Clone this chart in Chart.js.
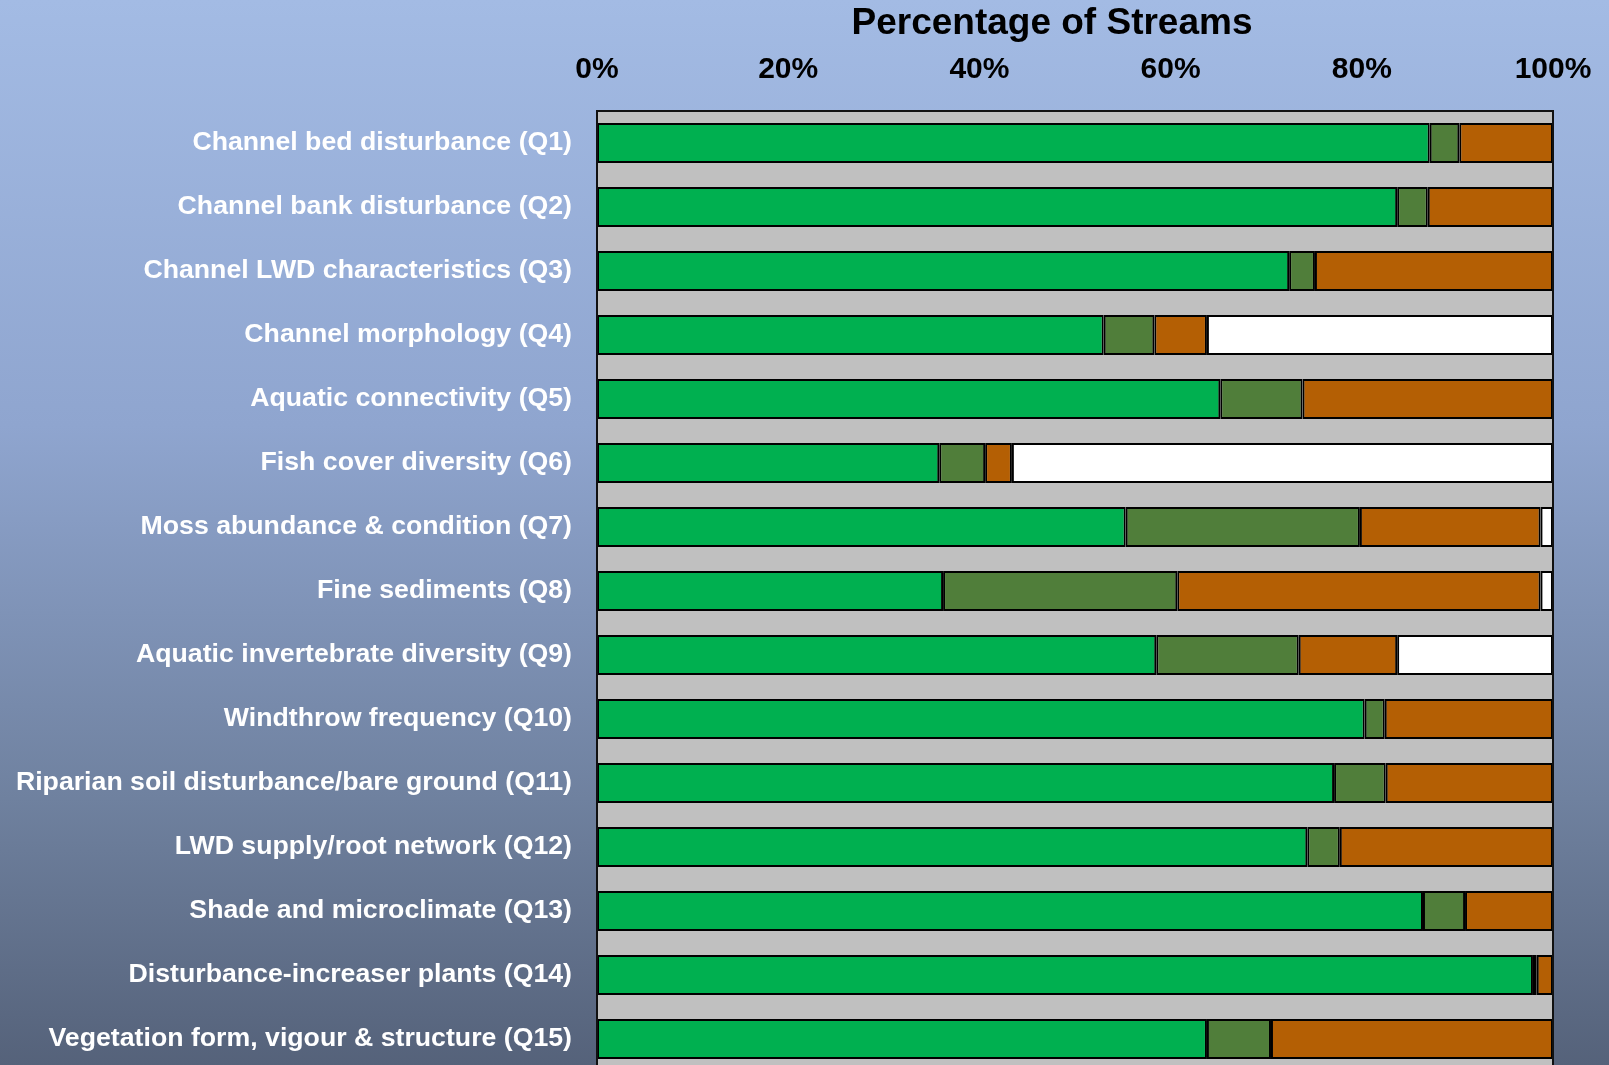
<!DOCTYPE html>
<html>
<head>
<meta charset="utf-8">
<title>Percentage of Streams</title>
<script src="https://cdn.jsdelivr.net/npm/chart.js@4.4.1/dist/chart.umd.min.js"></script>
<style>
html, body {
  margin: 0;
  padding: 0;
  width: 1609px;
  height: 1065px;
  overflow: hidden;
  background: linear-gradient(to bottom, #a3bbe4 0%, #8fa5cf 40%, #6f819f 75%, #55627a 100%);
}
canvas { display: block; }
</style>
</head>
<body>
<canvas id="streamChart" width="1609" height="1075"></canvas>
<script>
// assessment questions, top to bottom
const questions = [
  "Channel bed disturbance (Q1)",
  "Channel bank disturbance (Q2)",
  "Channel LWD characteristics (Q3)",
  "Channel morphology (Q4)",
  "Aquatic connectivity (Q5)",
  "Fish cover diversity (Q6)",
  "Moss abundance & condition (Q7)",
  "Fine sediments (Q8)",
  "Aquatic invertebrate diversity (Q9)",
  "Windthrow frequency (Q10)",
  "Riparian soil disturbance/bare ground (Q11)",
  "LWD supply/root network (Q12)",
  "Shade and microclimate (Q13)",
  "Disturbance-increaser plants (Q14)",
  "Vegetation form, vigour & structure (Q15)"
];

// % of streams per answer
const yesPct     = [87.1, 83.7, 72.4, 53.0, 65.2, 35.8, 55.3, 36.2, 58.5, 80.3, 77.1, 74.3, 86.4, 97.9, 63.8];
const partialPct = [3.1, 3.2, 2.7, 5.3, 8.6, 4.8, 24.5, 24.5, 14.9, 2.1, 5.4, 3.4, 4.4, 0.4, 6.7];
const noPct      = [9.8, 13.1, 24.9, 5.5, 26.2, 2.8, 18.9, 38.0, 10.3, 17.6, 17.5, 22.3, 9.2, 1.7, 29.5];
const naPct      = [0, 0, 0, 36.2, 0, 56.6, 1.3, 1.3, 16.3, 0, 0, 0, 0, 0, 0];

const pctTicks = [0, 20, 40, 60, 80, 100];

const FONT = '"Liberation Sans", Arial, Helvetica, sans-serif';

// grey plot background + black frame + heading
const plotFrame = {
  id: "plotFrame",
  beforeDatasetsDraw(chart) {
    const a = chart.chartArea;
    const c = chart.ctx;
    c.save();
    c.fillStyle = "#c0c0c0";
    c.fillRect(a.left, a.top, a.right - a.left, a.bottom - a.top);
    c.restore();
  },
  afterDraw(chart) {
    const a = chart.chartArea;
    const c = chart.ctx;
    c.save();
    c.strokeStyle = "#111";
    c.lineWidth = 2;
    c.strokeRect(a.left, a.top, a.right - a.left, a.bottom - a.top);
    c.fillStyle = "#000";
    c.font = "bold 37px " + FONT;
    c.textAlign = "center";
    c.textBaseline = "middle";
    c.fillText("Percentage of Streams", (a.left + a.right) / 2 - 23, 24);
    c.restore();
  }
};

function seg(label, data, color) {
  return {
    label: label,
    data: data,
    backgroundColor: color,
    borderColor: "#000",
    borderWidth: 2,
    borderSkipped: false,
    barPercentage: 0.625,
    categoryPercentage: 1
  };
}

new Chart(document.getElementById("streamChart"), {
  type: "bar",
  data: {
    labels: questions,
    datasets: [
      seg("Yes", yesPct, "#00b050"),
      seg("Partly", partialPct, "#507e3a"),
      seg("No", noPct, "#b45f04"),
      seg("Not applicable", naPct, "#ffffff")
    ]
  },
  options: {
    indexAxis: "y",
    responsive: false,
    animation: false,
    maintainAspectRatio: false,
    layout: { padding: { left: 0, right: 56, top: 0, bottom: 4 } },
    plugins: {
      legend: { display: false },
      tooltip: { enabled: false }
    },
    scales: {
      x: {
        position: "top",
        stacked: true,
        min: 0,
        max: 100,
        afterBuildTicks(scale) {
          scale.ticks = pctTicks.map(v => ({ value: v }));
        },
        afterFit(scale) {
          scale.height = 111;
          scale.paddingLeft = 0;
          scale.paddingRight = 0;
        },
        grid: { display: false, drawTicks: false },
        border: { display: false },
        ticks: {
          color: "#000",
          font: { family: FONT, size: 30, weight: "bold" },
          padding: 23,
          maxRotation: 0,
          autoSkip: false,
          callback: v => v + "%"
        }
      },
      y: {
        stacked: true,
        afterFit(scale) {
          scale.width = 597;
          scale.paddingTop = 0;
          scale.paddingBottom = 0;
        },
        grid: { display: false, drawTicks: false },
        border: { display: false },
        ticks: {
          color: "#fff",
          font: { family: FONT, size: 26.7, weight: "bold" },
          padding: 25,
          autoSkip: false
        }
      }
    }
  },
  plugins: [plotFrame]
});
</script>
</body>
</html>
